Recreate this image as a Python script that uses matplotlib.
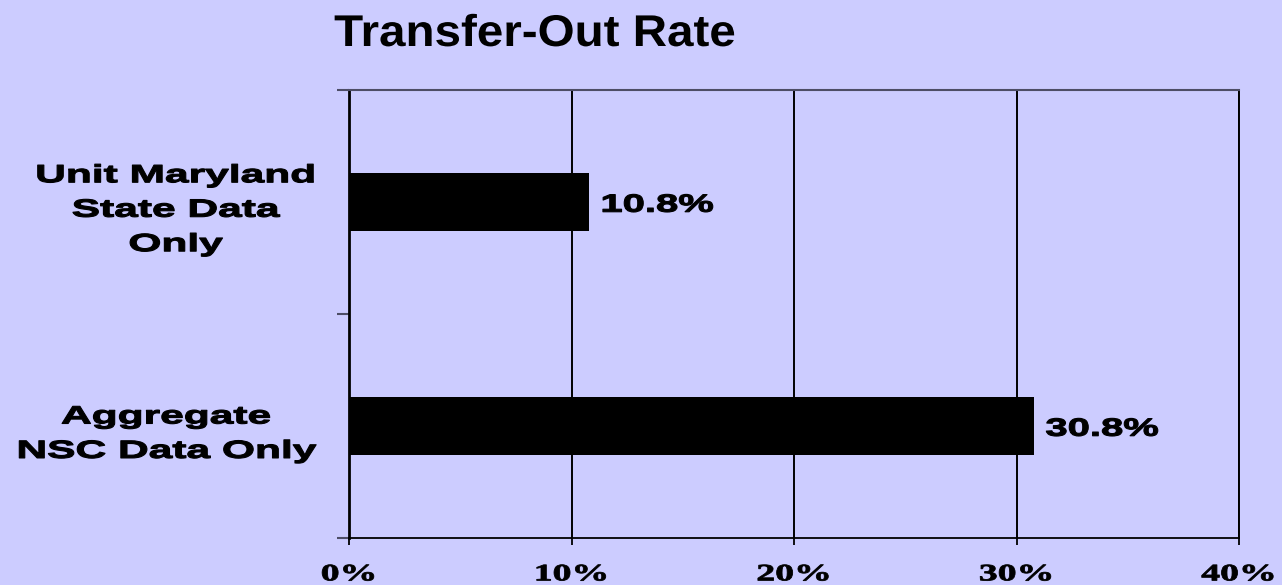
import matplotlib
matplotlib.use("Agg")
import matplotlib.pyplot as plt
from matplotlib.patheffects import AbstractPathEffect
from matplotlib.transforms import Affine2D

# ---- data ----
categories = ["Unit Maryland\nState Data\nOnly", "Aggregate\nNSC Data Only"]
values = [10.8, 30.8]
value_labels = ["10.8%", "30.8%"]
xticks = [0, 10, 20, 30, 40]
xtick_labels = ["0%", "10%", "20%", "30%", "40%"]
title = "Transfer-Out Rate"

BG = "#CCCCFF"


class HStretch(AbstractPathEffect):
    """Stretch glyphs horizontally around the text's anchor (text stays a Text artist)."""

    def __init__(self, sx, text, anchor, lw=0.0):
        super().__init__()
        self.sx = sx
        self.text = text
        self.anchor = anchor
        self.lw = lw

    def draw_path(self, renderer, gc, tpath, affine, rgbFace=None):
        bb = self.text.get_window_extent(renderer)
        if self.anchor == "left":
            cx = bb.x0
        elif self.anchor == "right":
            cx = bb.x1
        else:
            cx = 0.5 * (bb.x0 + bb.x1)
        tr = affine + Affine2D().translate(-cx, 0).scale(self.sx, 1).translate(cx, 0)
        if self.lw > 0 and rgbFace is not None:
            gc0 = renderer.new_gc()
            gc0.copy_properties(gc)
            gc0.set_linewidth(self.lw)
            gc0.set_foreground(rgbFace)
            gc0.set_joinstyle("round")
            renderer.draw_path(gc0, tpath, tr, rgbFace)
            gc0.restore()
        else:
            renderer.draw_path(gc, tpath, tr, rgbFace)


def stretch(t, sx, anchor, lw=0.0):
    t.set_path_effects([HStretch(sx, t, anchor, lw)])


fig = plt.figure(figsize=(12.82, 5.85), dpi=100, facecolor=BG)
ax = fig.add_axes([349 / 1282, 47 / 585, 890 / 1282, 448 / 585])
ax.set_facecolor(BG)

ypos = list(range(len(categories)))
ax.barh(ypos, values, height=0.255, color="black", zorder=2)
ax.set_xlim(0, 40)
ax.set_ylim(len(categories) - 0.5, -0.5)
ax.set_axisbelow(True)

# x axis
ax.set_xticks(xticks)
ax.set_xticklabels(xtick_labels, fontfamily="Liberation Serif", fontweight="bold", fontsize=17)
ax.tick_params(axis="x", direction="out", length=5, width=1.3, color="black", pad=14)
ax.grid(axis="x", color="black", linewidth=1.4, zorder=1)
for t in ax.get_xticklabels():
    stretch(t, 1.6, "center", 0.6)

# y axis
ax.set_yticks(ypos)
ax.set_yticklabels(categories, fontfamily="Liberation Sans", fontweight="bold", fontsize=18,
                   multialignment="center", linespacing=1.55)
ax.tick_params(axis="y", which="major", length=0, pad=24)
ax.set_yticks([-0.5, 0.5, 1.5], minor=True)
ax.tick_params(axis="y", which="minor", direction="out", length=9, width=1.5, color="#4d4d66")
for t in ax.get_yticklabels():
    stretch(t, 1.7, "right", 0.8)

# spines
ax.spines["left"].set_color("black")
ax.spines["left"].set_linewidth(2.0)
ax.spines["bottom"].set_color("black")
ax.spines["bottom"].set_linewidth(1.3)
ax.spines["top"].set_color("#4d4d66")
ax.spines["top"].set_linewidth(1.5)
ax.spines["right"].set_color("black")
ax.spines["right"].set_linewidth(1.4)

# value labels
for i, (v, lab) in enumerate(zip(values, value_labels)):
    t = ax.annotate(lab, xy=(v, i), xytext=(8, -2), textcoords="offset points",
                    ha="left", va="center", fontfamily="Liberation Sans",
                    fontweight="bold", fontsize=18, zorder=3)
    stretch(t, 1.6, "left", 0.8)

# title
tt = fig.text(535 / 1282, 1 - 46 / 585, title, ha="center", va="baseline",
              fontfamily="Liberation Sans", fontweight="bold", fontsize=32)
stretch(tt, 1.07, "center")

fig.savefig("out.png", dpi=100, facecolor=BG)
